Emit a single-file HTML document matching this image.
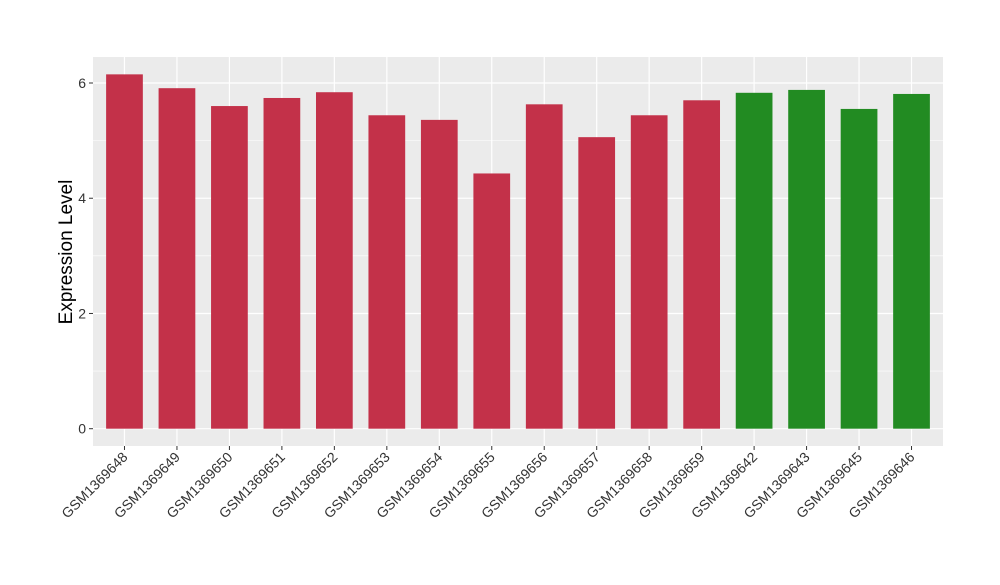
<!DOCTYPE html>
<html><head><meta charset="utf-8"><style>
html,body{margin:0;padding:0;background:#fff;}
svg text{font-family:"Liberation Sans",Arial,sans-serif;}
</style></head><body>
<svg id="chart" width="1000" height="580" xmlns="http://www.w3.org/2000/svg">
<rect x="93" y="57" width="850" height="389" fill="#ebebeb"/>
<g id="grid"></g><g id="bars"></g><g id="axes"></g>
<text transform="translate(72,252) rotate(-90)" text-anchor="middle" font-size="19" fill="#000">Expression Level</text>
</svg>
<script>
const categories=["GSM1369648","GSM1369649","GSM1369650","GSM1369651","GSM1369652","GSM1369653","GSM1369654","GSM1369655","GSM1369656","GSM1369657","GSM1369658","GSM1369659","GSM1369642","GSM1369643","GSM1369645","GSM1369646"];
const values=[6.15,5.91,5.60,5.74,5.84,5.44,5.36,4.43,5.63,5.06,5.44,5.70,5.83,5.88,5.55,5.81];
const groups=["a","a","a","a","a","a","a","a","a","a","a","a","b","b","b","b"];
const yTicks=[0,2,4,6];
const colors={a:"#c33149",b:"#228b22"};
const NS="http://www.w3.org/2000/svg";
const panelLeft=93,panelRight=943,panelTop=57,panelBottom=446;
const y0=428.7,pxPerUnit=(428.7-83)/6;
function yScale(v){return y0-v*pxPerUnit;}
const step=(panelRight-panelLeft)/(categories.length+0.2);
function xScale(i){return panelLeft+step*(0.6+i);}
function mk(tag,attrs,parent){const e=document.createElementNS(NS,tag);for(const k in attrs)e.setAttribute(k,attrs[k]);parent.appendChild(e);return e;}
const grid=document.getElementById('grid'),bars=document.getElementById('bars'),axes=document.getElementById('axes');
for(let t=0;t<yTicks.length;t++){
  if(t<yTicks.length-1){const m=(yTicks[t]+yTicks[t+1])/2;
    const l=mk('line',{x1:panelLeft,x2:panelRight,y1:yScale(m),y2:yScale(m),stroke:'#fff','stroke-width':0.6},grid);
    
    }
  const g=mk('line',{x1:panelLeft,x2:panelRight,y1:yScale(yTicks[t]),y2:yScale(yTicks[t]),stroke:'#fff','stroke-width':1.2},grid);
  
  
  const tk=mk('line',{x1:panelLeft-4,x2:panelLeft,y1:yScale(yTicks[t]),y2:yScale(yTicks[t]),stroke:'#333','stroke-width':1},axes);
  
  
  const tx=mk('text',{x:panelLeft-7,y:yScale(yTicks[t])+5,'text-anchor':'end','font-size':14,fill:'#333'},axes);
  tx.textContent=yTicks[t];
  
  
}
const bw=step*0.7;
categories.forEach((c,i)=>{
  const cx=xScale(i);
  const vg=mk('line',{x1:cx,x2:cx,y1:panelTop,y2:panelBottom,stroke:'#fff','stroke-width':1.2},grid);
  
  
  const r=mk('rect',{x:cx-bw/2,y:yScale(values[i]),width:bw,height:yScale(0)-yScale(values[i]),fill:colors[groups[i]]},bars);
  
  
  const tk=mk('line',{x1:cx,x2:cx,y1:panelBottom,y2:panelBottom+4,stroke:'#333','stroke-width':1},axes);
  
  
  const tx=mk('text',{transform:`translate(${cx+4},${panelBottom+12}) rotate(-45)`,'text-anchor':'end','font-size':14,fill:'#333'},axes);
  tx.textContent=c;
  
  
});
</script>
</body></html>
